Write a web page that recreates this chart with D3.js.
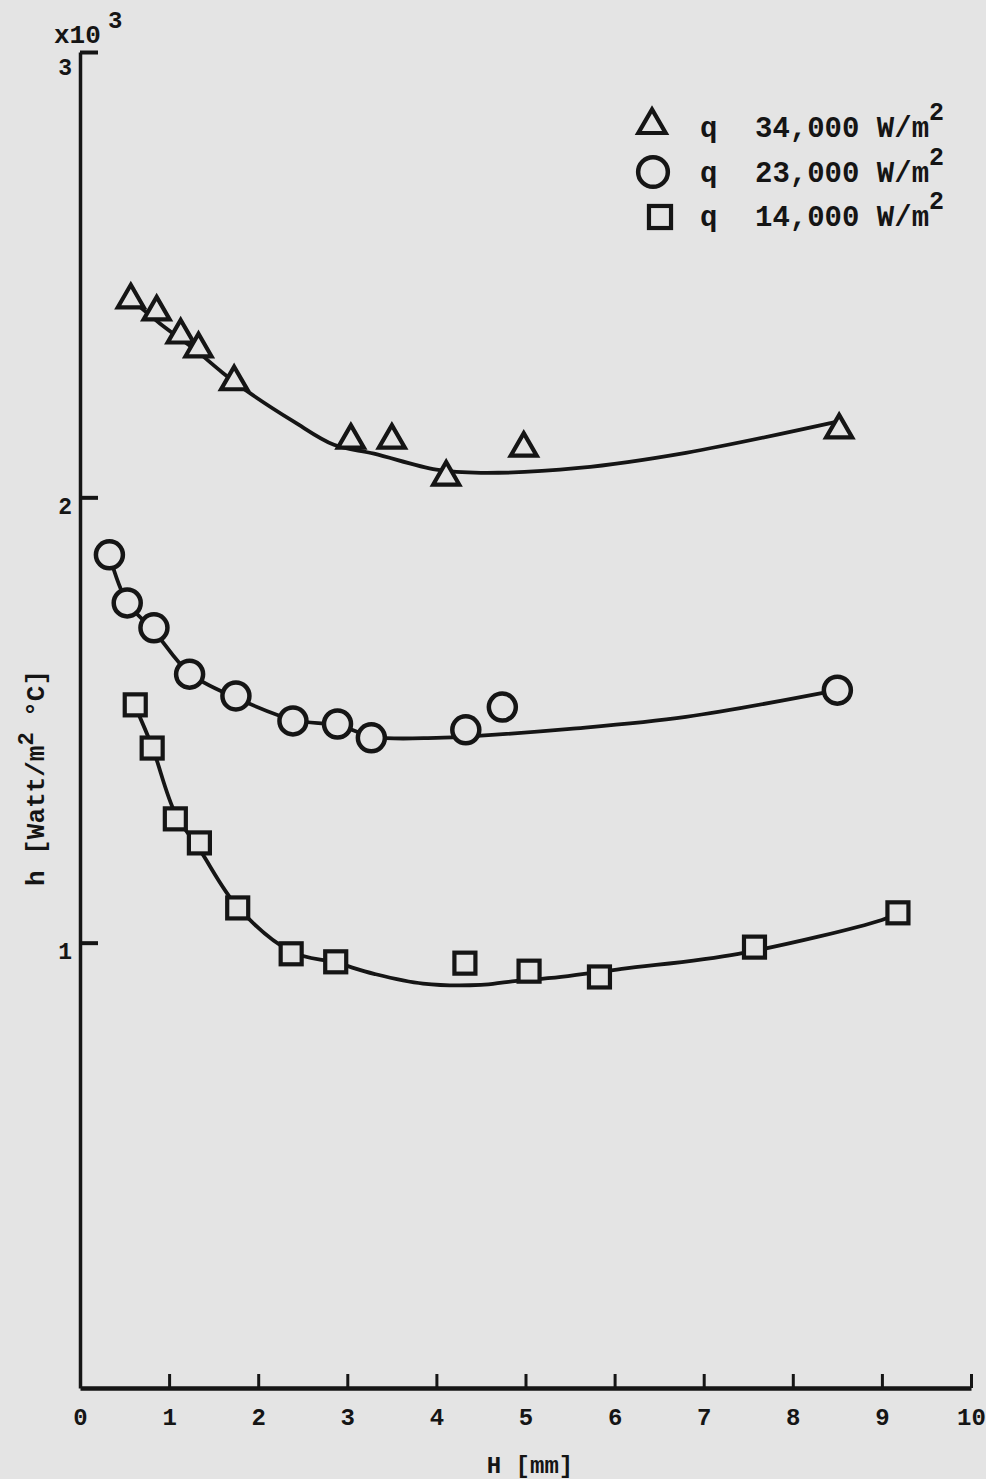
<!DOCTYPE html>
<html>
<head>
<meta charset="utf-8">
<script src="https://cdn.jsdelivr.net/npm/d3@7"></script>
<style>
  html, body { margin: 0; padding: 0; background: #e4e4e4; }
  svg { display: block; }
  text { font-family: "Liberation Mono", "DejaVu Sans Mono", monospace; fill: #151515; }
</style>
</head>
<body>
<svg id="chart" width="986" height="1479"></svg>
<script>
// ---- Data ----
const xTicks = [0, 1, 2, 3, 4, 5, 6, 7, 8, 9, 10];
const yTicks = [1, 2, 3];

// q = 34,000 W/m2 (triangles): H [mm], h [x10^3 W/m2 C]
const triH = [0.57, 0.86, 1.13, 1.33, 1.73, 3.04, 3.50, 4.11, 4.98, 8.52];
const triV = [2.448, 2.421, 2.369, 2.338, 2.264, 2.133, 2.133, 2.050, 2.115, 2.156];
const triCurveH = [0.6, 0.9, 1.3, 1.6, 1.9, 2.4, 2.85, 3.3, 4.0, 4.5, 5.6, 6.8, 8.5];
const triCurveV = [2.44, 2.39, 2.33, 2.28, 2.235, 2.17, 2.118, 2.098, 2.062, 2.055, 2.066, 2.10, 2.17];

// q = 23,000 W/m2 (circles)
const cirH = [0.33, 0.53, 0.83, 1.23, 1.75, 2.39, 2.89, 3.27, 4.33, 4.74, 8.50];
const cirV = [1.871, 1.763, 1.707, 1.603, 1.554, 1.498, 1.491, 1.460, 1.478, 1.529, 1.567];
const cirCurveH = [0.33, 0.53, 0.83, 1.23, 1.75, 2.4, 2.9, 3.3, 4.0, 4.5, 5.5, 6.8, 8.5];
const cirCurveV = [1.87, 1.765, 1.70, 1.605, 1.55, 1.50, 1.488, 1.462, 1.46, 1.465, 1.48, 1.507, 1.567];

// q = 14,000 W/m2 (squares)
const sqH = [0.62, 0.81, 1.07, 1.34, 1.77, 2.37, 2.87, 4.32, 5.04, 5.83, 7.57, 9.18];
const sqV = [1.534, 1.437, 1.278, 1.224, 1.078, 0.975, 0.957, 0.954, 0.936, 0.923, 0.990, 1.067];
const sqCurveH = [0.62, 0.81, 1.07, 1.34, 1.77, 2.37, 2.87, 3.3, 3.85, 4.5, 4.81, 5.4, 6.08, 7.39, 9.0, 9.18];
const sqCurveV = [1.53, 1.44, 1.29, 1.21, 1.08, 0.98, 0.955, 0.93, 0.908, 0.905, 0.912, 0.923, 0.941, 0.975, 1.051, 1.066];

const legendLabels = ["34,000", "23,000", "14,000"];
const legendShapes = ["triangle", "circle", "square"];

// ---- Layout ----
const svg = d3.select("#chart");
const ink = "#151515";
const bg = "#e4e4e4";

const x = d3.scaleLinear().domain([0, 10]).range([80, 971]);
const y = d3.scaleLinear().domain([0, 3]).range([1388, 52]);

// Curves
const line = d3.line().x(d => x(d[0])).y(d => y(d[1])).curve(d3.curveCatmullRom.alpha(0.5));
const curves = [
  d3.zip(triCurveH, triCurveV),
  d3.zip(cirCurveH, cirCurveV),
  d3.zip(sqCurveH, sqCurveV)
];
svg.append("g").selectAll("path").data(curves).join("path")
  .attr("d", line)
  .attr("fill", "none")
  .attr("stroke", ink)
  .attr("stroke-width", 3.8)
  .attr("stroke-linecap", "round");

// Marker drawing
function drawMarker(g, shape, cx, cy, scale) {
  const s = scale || 1;
  if (shape === "triangle") {
    g.append("path")
      .attr("d", `M${cx},${cy - 13 * s} L${cx + 13 * s},${cy + 9.5 * s} L${cx - 13 * s},${cy + 9.5 * s} Z`)
      .attr("fill", bg).attr("stroke", ink).attr("stroke-width", 4.2).attr("stroke-linejoin", "miter");
  } else if (shape === "circle") {
    g.append("circle").attr("cx", cx).attr("cy", cy).attr("r", 13.5 * s)
      .attr("fill", bg).attr("stroke", ink).attr("stroke-width", 4.5);
  } else {
    g.append("rect").attr("x", cx - 10.5 * s).attr("y", cy - 10.5 * s)
      .attr("width", 21 * s).attr("height", 21 * s)
      .attr("fill", bg).attr("stroke", ink).attr("stroke-width", 4.2);
  }
}

const markers = svg.append("g");
d3.zip(triH, triV).forEach(d => drawMarker(markers, "triangle", x(d[0]), y(d[1])));
d3.zip(cirH, cirV).forEach(d => drawMarker(markers, "circle", x(d[0]), y(d[1])));
d3.zip(sqH, sqV).forEach(d => drawMarker(markers, "square", x(d[0]), y(d[1])));

// X axis
const xAxis = svg.append("g")
  .attr("transform", `translate(0,${y(0)})`)
  .call(d3.axisBottom(x).tickValues(xTicks).tickFormat(d3.format("d"))
    .tickSizeInner(-14).tickSizeOuter(0).tickPadding(20));
xAxis.select(".domain").attr("stroke", ink).attr("stroke-width", 4.5);
xAxis.selectAll(".tick line").attr("stroke", ink).attr("stroke-width", 3);
xAxis.selectAll(".tick").filter(d => d === 0).select("line").remove();
xAxis.selectAll(".tick text").attr("font-size", 24).attr("font-family", "Liberation Mono")
  .attr("fill", ink).attr("font-weight", "bold");

// Y axis
const yAxis = svg.append("g")
  .attr("transform", `translate(${x(0)},0)`)
  .call(d3.axisLeft(y).tickValues(yTicks).tickFormat(d3.format("d"))
    .tickSizeInner(-18).tickSizeOuter(0).tickPadding(8));
yAxis.select(".domain").attr("stroke", ink).attr("stroke-width", 3.5);
yAxis.selectAll(".tick line").attr("stroke", ink).attr("stroke-width", 4);
yAxis.selectAll(".tick text").attr("font-size", 23).attr("font-family", "Liberation Mono")
  .attr("fill", ink).attr("font-weight", "bold").attr("dy", d => d === 3 ? 22 : 16);

// Multiplier label
svg.append("text").attr("x", 54).attr("y", 43)
  .attr("font-size", 26).attr("font-weight", "bold").text("x10");
svg.append("text").attr("x", 108).attr("y", 28)
  .attr("font-size", 24).attr("font-weight", "bold").text("3");

// Axis titles
const xt = svg.append("text").attr("x", 530).attr("y", 1473).attr("text-anchor", "middle")
  .attr("font-size", 24).attr("font-weight", "bold");
xt.append("tspan").text("H [mm]");

const yt = svg.append("text")
  .attr("transform", "translate(44,778) rotate(-90)")
  .attr("text-anchor", "middle")
  .attr("font-size", 26).attr("font-weight", "bold");
yt.append("tspan").text("h [Watt/m");
yt.append("tspan").attr("dy", -11).attr("font-size", 22).text("2");
yt.append("tspan").attr("dy", 11).text(" \u00B0C]");

// Legend
const legendY = [123, 172, 217];
const legendShapeX = [652, 653, 660];
const legendBase = [137, 182, 226];
const lg = svg.append("g");
legendShapes.forEach((s, i) => {
  drawMarker(lg, s, legendShapeX[i], legendY[i], s === "circle" ? 1.1 : (s === "triangle" ? 1.05 : 1.05));
  lg.append("text").attr("x", 700).attr("y", legendBase[i])
    .attr("font-size", 29).attr("font-weight", "bold").text("q");
  const t = lg.append("text").attr("x", 755).attr("y", legendBase[i])
    .attr("font-size", 29).attr("font-weight", "bold");
  t.append("tspan").text(legendLabels[i] + " W/m");
  t.append("tspan").attr("dy", -17).attr("font-size", 25).text("2");
});
</script>
</body>
</html>
